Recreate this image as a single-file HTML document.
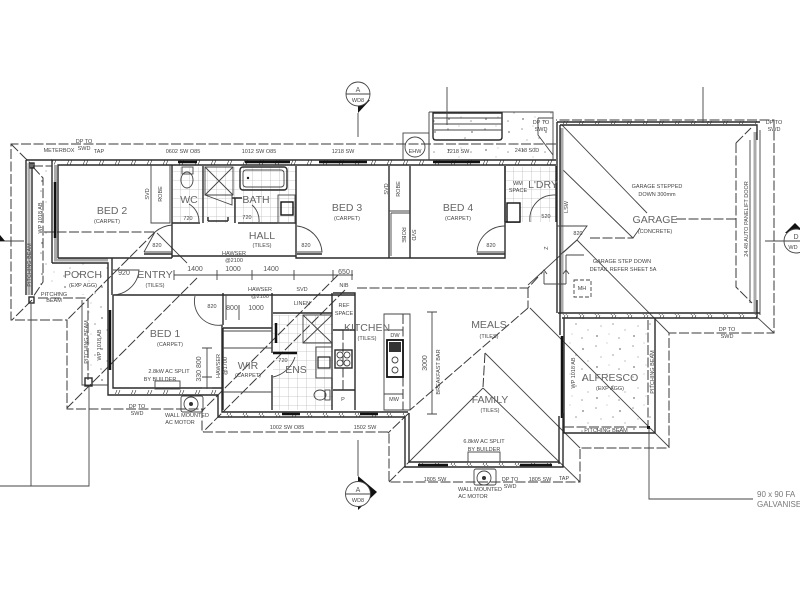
<!DOCTYPE html>
<html><head><meta charset="utf-8"><style>
html,body{margin:0;padding:0;background:#fff;width:800px;height:600px;overflow:hidden}
svg{display:block}
text{font-family:"Liberation Sans",sans-serif;fill:#555;text-anchor:middle}
.r{font-size:10.5px;fill:#666}
.s{font-size:5.5px;fill:#444}
.m{font-size:7px;fill:#555}
.w{stroke:#2a2a2a;stroke-width:1.4;fill:none}
.t{stroke:#111;stroke-width:2.5;fill:none}
.n{stroke:#444;stroke-width:.9;fill:none}
.d{stroke:#3a3a3a;stroke-width:1;fill:none;stroke-dasharray:10 2.5}
.y{stroke:#aaa;stroke-width:3;fill:none}
.c{stroke:#444;stroke-width:.9;fill:#fff}
</style></head><body>
<svg width="800" height="600" viewBox="0 0 800 600" xmlns="http://www.w3.org/2000/svg">
<defs>
<pattern id="sp" width="37" height="31" patternUnits="userSpaceOnUse">
<g fill="#999"><circle cx="4" cy="5" r=".8"/><circle cx="15" cy="2" r=".5"/><circle cx="28" cy="8" r="1"/><circle cx="9" cy="16" r=".6"/><circle cx="21" cy="14" r=".8"/><circle cx="33" cy="20" r=".6"/><circle cx="5" cy="26" r="1"/><circle cx="17" cy="24" r=".5"/><circle cx="27" cy="28" r=".8"/></g>
</pattern>
<pattern id="tl" width="9" height="9" patternUnits="userSpaceOnUse"><path d="M0 0H9M0 0V9" stroke="#bbb" stroke-width=".8" fill="none"/></pattern>
<pattern id="hb" width="16" height="5" patternUnits="userSpaceOnUse"><path d="M3 5L5 0M6 5L8 0" stroke="#333" stroke-width=".6"/></pattern>
</defs>

<!-- speckled concrete -->
<rect x="34" y="168" width="18" height="125" fill="url(#sp)"/>
<rect x="45" y="263" width="65" height="32" fill="url(#sp)"/>
<rect x="84" y="300" width="24" height="84" fill="url(#sp)"/>
<rect x="564" y="318" width="91" height="115" fill="url(#sp)"/>
<rect x="429" y="112" width="124" height="48" fill="url(#sp)"/>

<!-- tiles -->
<rect x="173" y="167" width="30" height="56" fill="url(#tl)"/>
<rect x="204" y="167" width="92" height="56" fill="url(#tl)"/>
<rect x="506" y="167" width="50" height="55" fill="url(#tl)"/>
<rect x="273" y="315" width="60" height="95" fill="url(#tl)"/>

<!-- roof outline dashed -->
<path class="d" d="M556 144H11V320H67V409H202V432H389V482H580V448H669V333H774V120H556"/>
<path class="d" d="M11 144L30 163M155 232L67 320M32 300L12 320M197 278L67 408M338 275L203 410M345 290L203 432"/>
<path class="d" d="M44 232H155M357 288H528M538 277L528 288M528 288V308M528 308L410 410M590 238H633M676 219H736M736 143L751 128M736 143V287L752 303M485 353L483 387"/>
<path class="d" d="M409 413L388 433M389 482L408 463"/>
<path class="n" d="M157 233L187 263M562 125L647 213M560 167L633 238L640 228M577 240L669 333M577 240L528 285M530 308L669 447M485 353L580 448M483 388L580 482M483 388L408 463M758 318L774 333"/>

<!-- gray wall fill -->
<path class="y" d="M55.500 165V260H108M29 163V295M562 128V313M755 132V312"/>
<!-- exterior walls -->
<path class="w" d="M52 263V160H556M58 258V165H556"/>
<rect x="52" y="160.500" width="505" height="4" fill="url(#hb)"/>
<path class="t" d="M178 162H197M245 162H290M319 162H367M433 162H480"/>
<path class="t" d="M55 182V238"/>
<path class="w" d="M52 263H108V295M58 258H172M112 258V295"/>
<path class="w" d="M172 165V258"/>
<path class="w" d="M172 256H296" stroke-width="2"/>
<path class="w" d="M296 166V258H505V166M389 166V258M410 166V258"/>
<path class="n" d="M389 211H410M391 213H410M391 213V256M151 165V223H170V165"/>
<path class="w" d="M172 223H200M203 166V223M238 223H296M235 198V223M232 198H242"/>
<path class="t" d="M110 310V370"/>

<!-- garage -->
<path class="w" d="M557 122H760M560 125H757V140M557 122V313M560 125V313"/>
<rect x="558" y="121" width="200" height="3" fill="url(#hb)"/>
<path class="n" d="M750 140V303M760 130V315"/>
<path class="w" d="M558 313H760M562 318H757V300"/>
<rect x="562" y="314" width="195" height="4" fill="url(#hb)"/>
<path class="w" d="M505 166V222M505 222H520M556 166V222"/>

<!-- alfresco -->
<path class="w" d="M560 313V335M564 318V433H655V318"/>
<path class="t" d="M562 336V418"/>
<path class="d" stroke-dasharray="4 2" d="M564 427H648M648 320V427"/>
<path class="w" d="M559 416V464"/>
<rect x="647" y="426" width="3" height="3" fill="#111"/>
<path class="n" d="M649 428V499H753"/>

<!-- bed 1 & lower walls -->
<path class="w" d="M108 295V395H218M113 295V388H222V325M113 295H355" />
<path class="w" d="M218 395V417H405M222 388V412H408M405 417V467H563V413M409 413V462H559"/>
<rect x="220" y="413" width="185" height="4" fill="url(#hb)"/>
<rect x="110" y="390" width="110" height="4" fill="url(#hb)"/>
<rect x="412" y="463" width="148" height="3" fill="url(#hb)"/>
<path class="t" d="M282 414H300M360 414H378M418 465H448M520 465H552"/>
<path class="w" d="M223 293V325M223 328V410M223 328H272M272 293V353M272 375V410"/>
<path class="n" d="M223 331H272M223 348H272M223 392H272"/>
<path class="t" d="M276 323V343M273 353H297" stroke-width="2"/>

<!-- ensuite -->
<path class="w" d="M273 313H332M332 293V410M333 293H355V410M333 330H355M333 390H355"/>
<path class="d" stroke-dasharray="4 2" d="M343 330V390"/>
<path class="n" d="M303 315H332V343H303ZM303 315L332 343M332 315L303 343M316 347H332V378H316ZM273 377A30 30 0 0 0 295 357"/>
<rect x="318" y="357" width="12" height="11" stroke="#222" stroke-width="1.2" fill="none"/>
<ellipse class="n" cx="320" cy="395" rx="6" ry="5"/><rect x="325" y="390" width="5" height="10" class="n"/>

<!-- kitchen -->
<rect x="335" y="350" width="17" height="18" class="w"/>
<circle cx="340" cy="355" r="3" class="n"/><circle cx="347" cy="355" r="3" class="n"/><circle cx="340" cy="363" r="3" class="n"/><circle cx="347" cy="363" r="3" class="n"/>
<path class="n" d="M384 314H410V410H384ZM384 330H403M384 394H403"/>
<path class="d" stroke-dasharray="3 2" d="M403 314V410"/>
<rect x="387" y="340" width="16" height="37" fill="#fff" stroke="#111" stroke-width="1.8"/>
<rect x="389" y="342" width="12" height="10" fill="#333"/>
<circle cx="395" cy="360" r="3" class="n"/><circle cx="395" cy="370" r="3" class="n"/>

<!-- wet areas -->
<ellipse class="n" cx="187" cy="180" rx="6" ry="8"/><rect x="182" y="167" width="11" height="7" class="n"/>
<path class="n" d="M205 167H233V195H205ZM205 167L233 195M233 167L205 195M205 195L232 205V195"/>
<path class="w" d="M208 221H228M208 217V221M228 217V221"/>
<rect x="240" y="167" width="47" height="23" rx="3" class="w"/><rect x="243" y="170" width="41" height="17" rx="3" class="n"/>
<circle cx="248" cy="178" r="1.200" fill="#222"/>
<rect x="278" y="195" width="17" height="28" class="n"/><rect x="281" y="202" width="12" height="13" stroke="#111" stroke-width="1.4" fill="none"/>
<rect x="507" y="203" width="13" height="19" stroke="#111" stroke-width="1.4" fill="#fff"/>

<!-- EHW, stairs -->
<rect x="403" y="133" width="26" height="27" class="n"/><circle cx="415" cy="147" r="10" class="n"/>
<path class="n" d="M429 112H553V160M429 112V160"/>
<path class="w" d="M433 113H502V137Q502 140 499 140H436Q433 140 433 137Z"/>
<path class="n" d="M434 118H502M434 124H502M434 130H502"/>
<path class="n" d="M447 87V125M703 87V123M538 118H553M538 118V135L553 155"/>

<!-- porch columns -->
<path class="w" d="M26 160V295M32 163V295M26 160H52"/>
<path class="d" stroke-dasharray="3 2" d="M33 167L43 178V282L33 297M33 166H52M38 298H88V380"/>
<path class="n" d="M82 300V385H108"/>
<rect x="29" y="297" width="5" height="6" class="w"/><rect x="30" y="163" width="4" height="5" class="w"/><rect x="85" y="378" width="7" height="8" class="w"/>
<path class="n" d="M31 303V486M89 386V486H0"/>

<!-- doors -->
<path class="n" d="M172 225A30 30 0 0 0 155 232L144 252M144 252H172"/>
<path class="n" d="M113 295A27 27 0 0 0 139 270H113M195 296A24 24 0 0 0 222 325"/>
<path class="n" d="M297 226A28 28 0 0 1 322 252H297M505 226A28 28 0 0 0 477 252H505"/>
<path class="n" d="M556 195A24 24 0 0 0 530 222M557 226H587L577 240L560 255"/>
<path class="n" d="M189 204A20 20 0 0 1 199 222M252 205A20 20 0 0 1 259 222"/>
<path class="w" d="M144 254H172M297 254H322M477 254H505"/>

<!-- dimensions -->
<path class="n" d="M174 275H353M174 270V280M217 270V280M252 270V280M294 270V280M333 270V280M352 270V280"/>
<path class="n" d="M226 295V320M239 305V320M207 348V389M202 348H212M202 377H212M202 388H212"/>
<path class="n" d="M432 312V414M427 312H437M427 414H437"/>

<!-- misc -->
<rect x="155" y="381" width="25" height="8" class="n"/>
<rect x="181" y="396" width="22" height="16" rx="2" class="n"/><circle cx="191" cy="404" r="7" class="n"/><circle cx="191" cy="404" r="2" fill="#333"/>
<rect x="474" y="469" width="22" height="16" rx="2" class="n"/><circle cx="484" cy="478" r="7" class="n"/><circle cx="484" cy="478" r="2" fill="#333"/>
<rect x="468" y="452" width="32" height="10" class="n"/>
<path class="n" d="M566 255H584M566 255V284M544 284H566M544 284V272M541 274L544 270L547 274M563 274L566 270L569 274"/>
<rect x="574" y="280" width="17" height="17" class="n" stroke-dasharray="4 2"/>

<!-- section markers -->
<path d="M358 113L358 100L370 100Z" fill="#111"/>
<circle cx="358" cy="94" r="12" class="c"/><path class="n" d="M346 94H370M358 113V137"/>
<text class="m" x="358" y="92">A</text><text class="s" x="358" y="102">WD8</text>
<path d="M358 476L377 492L358 510Z" fill="#111"/>
<circle cx="358" cy="494" r="12.500" class="c"/><path class="n" d="M346 494H370M358 440V476"/>
<text class="m" x="358" y="492">A</text><text class="s" x="358" y="502">WD8</text>
<path class="n" d="M0 241H24"/><path d="M0 235L5 241H0Z" fill="#111"/>
<path d="M795 223L785 233H805Z" fill="#111"/>
<circle cx="796" cy="241" r="12" class="c"/><path class="n" d="M765 241H808"/>
<text class="m" x="796" y="239">D</text><text class="s" x="793" y="249">WD</text>

<!-- room labels -->
<text class="r" x="112" y="214">BED 2</text><text class="s" x="107" y="223">(CARPET)</text>
<text class="r" x="189" y="203">WC</text>
<text class="r" x="256" y="203">BATH</text>
<text class="r" x="262" y="239">HALL</text><text class="s" x="262" y="247">(TILES)</text>
<text class="r" x="347" y="211">BED 3</text><text class="s" x="347" y="220">(CARPET)</text>
<text class="r" x="458" y="211">BED 4</text><text class="s" x="458" y="220">(CARPET)</text>
<text class="r" x="543" y="188">L'DRY</text>
<text class="r" x="655" y="223">GARAGE</text><text class="s" x="655" y="233">(CONCRETE)</text>
<text class="r" x="83" y="278">PORCH</text><text class="s" x="83" y="287">(EXP AGG)</text>
<text class="r" x="155" y="278">ENTRY</text><text class="s" x="155" y="287">(TILES)</text>
<text class="r" x="165" y="337">BED 1</text><text class="s" x="170" y="346">(CARPET)</text>
<text class="r" x="248" y="369">WIR</text><text class="s" x="248" y="377">(CARPET)</text>
<text class="r" x="296" y="373">ENS</text>
<text class="r" x="367" y="331">KITCHEN</text><text class="s" x="367" y="340">(TILES)</text>
<text class="r" x="489" y="328">MEALS</text><text class="s" x="489" y="338">(TILES)</text>
<text class="r" x="490" y="403">FAMILY</text><text class="s" x="490" y="412">(TILES)</text>
<text class="r" x="610" y="381">ALFRESCO</text><text class="s" x="610" y="390">(EXP AGG)</text>

<!-- small labels -->
<text class="s" x="59" y="152">METERBOX</text>
<text class="s" x="84" y="143">DP TO</text><text class="s" x="84" y="150">SWD</text>
<text class="s" x="99" y="153">TAP</text>
<text class="s" x="183" y="153">0602 SW O85</text>
<text class="s" x="259" y="153">1012 SW O85</text>
<text class="s" x="343" y="153">1218 SW</text>
<text class="s" x="458" y="153">1218 SW</text>
<text class="s" x="527" y="152">2418 S0D</text>
<text class="s" x="541" y="124">DP TO</text><text class="s" x="541" y="131">SWD</text>
<text class="s" x="774" y="124">DP TO</text><text class="s" x="774" y="131">SWD</text>
<text class="s" x="415" y="153">EHW</text>
<text class="s" x="657" y="188">GARAGE STEPPED</text><text class="s" x="657" y="196">DOWN 300mm</text>
<text class="s" x="622" y="263">GARAGE STEP DOWN</text><text class="s" x="623" y="271">DETAIL REFER SHEET 5A</text>
<text class="s" x="582" y="290">MH</text>
<text class="s" x="518" y="185">WM</text><text class="s" x="518" y="192">SPACE</text>
<text class="s" x="234" y="255">HAWSER</text><text class="s" x="234" y="262">@2100</text>
<text class="s" x="260" y="291">HAWSER</text><text class="s" x="260" y="298">@2100</text>
<text class="s" x="302" y="291">SVD</text><text class="s" x="302" y="305">LINEN</text>
<text class="s" x="344" y="307">REF</text><text class="s" x="344" y="315">SPACE</text>
<text class="s" x="344" y="287">NIB</text>
<text class="s" x="395" y="337">DW</text><text class="s" x="394" y="401">MW</text><text class="s" x="343" y="401">P</text>
<text class="s" x="169" y="373">2.8kW AC SPLIT</text><text class="s" x="160" y="381">BY BUILDER</text>
<text class="s" x="484" y="443">6.8kW AC SPLIT</text><text class="s" x="484" y="451">BY BUILDER</text>
<text class="s" x="137" y="408">DP TO</text><text class="s" x="137" y="415">SWD</text>
<text class="s" x="187" y="417">WALL MOUNTED</text><text class="s" x="180" y="424">AC MOTOR</text>
<text class="s" x="480" y="491">WALL MOUNTED</text><text class="s" x="473" y="498">AC MOTOR</text>
<text class="s" x="435" y="481">1805 SW</text><text class="s" x="510" y="481">DP TO</text><text class="s" x="510" y="488">SWD</text>
<text class="s" x="540" y="481">1805 SW</text><text class="s" x="564" y="480">TAP</text>
<text class="s" x="287" y="429">1002 SW O85</text><text class="s" x="365" y="429">1502 SW</text>
<text class="s" x="727" y="331">DP TO</text><text class="s" x="727" y="338">SWD</text>
<text class="s" x="606" y="432">PITCHING BEAM</text>
<text class="s" x="54" y="296">PITCHING</text><text class="s" x="54" y="302">BEAM</text>
<text class="m" x="195" y="271">1400</text><text class="m" x="233" y="271">1000</text><text class="m" x="271" y="271">1400</text><text class="m" x="344" y="274">650</text>
<text class="m" x="124" y="275">920</text><text class="m" x="232" y="310">800</text><text class="m" x="256" y="310">1000</text>
<text class="s" x="157" y="247">820</text><text class="s" x="188" y="220">720</text><text class="s" x="247" y="219">720</text>
<text class="s" x="306" y="247">820</text><text class="s" x="491" y="247">820</text><text class="s" x="546" y="218">520</text>
<text class="s" x="578" y="235">820</text><text class="s" x="212" y="308">820</text><text class="s" x="283" y="362">720</text>
<text x="757" y="497" style="font-size:8px;text-anchor:start;fill:#777">90 x 90 FA</text>
<text x="757" y="507" style="font-size:8px;text-anchor:start;fill:#777">GALVANISE</text>
<text class="s" transform="translate(149,194) rotate(-90)">SVD</text>
<text class="s" transform="translate(162,194) rotate(-90)">ROBE</text>
<text class="s" transform="translate(388,189) rotate(-90)">SVD</text>
<text class="s" transform="translate(400,189) rotate(-90)">ROBE</text>
<text class="s" transform="translate(402,235) rotate(90)">ROBE</text>
<text class="s" transform="translate(412,235) rotate(90)">SVD</text>
<text class="s" transform="translate(568,207) rotate(-90)">LSW</text>
<text class="s" transform="translate(748,219) rotate(-90)">24.48 AUTO PANELIFT DOOR</text>
<text class="s" transform="translate(42,218) rotate(-90)">WP 1018 AB</text>
<text class="s" transform="translate(88,342) rotate(-90)">PITCHING BEAM</text>
<text class="s" transform="translate(101,345) rotate(-90)">WP 1018 AB</text>
<text class="s" transform="translate(31,265) rotate(-90)">PITCHING BEAM</text>
<text class="s" transform="translate(220,366) rotate(-90)">HAWSER</text>
<text class="s" transform="translate(227,366) rotate(-90)">@1700</text>
<text class="s" transform="translate(575,373) rotate(-90)">WP 1018 AB</text>
<text class="s" transform="translate(654,372) rotate(-90)">PITCHING BEAM</text>
<text class="s" transform="translate(440,372) rotate(-90)">BREAKFAST BAR</text>
<text class="s" transform="translate(548,248) rotate(-90)">Z</text>
<text class="m" transform="translate(201,369) rotate(-90)">330 800</text>
<text class="m" transform="translate(427,363) rotate(-90)">3000</text>
</svg>
</body></html>
